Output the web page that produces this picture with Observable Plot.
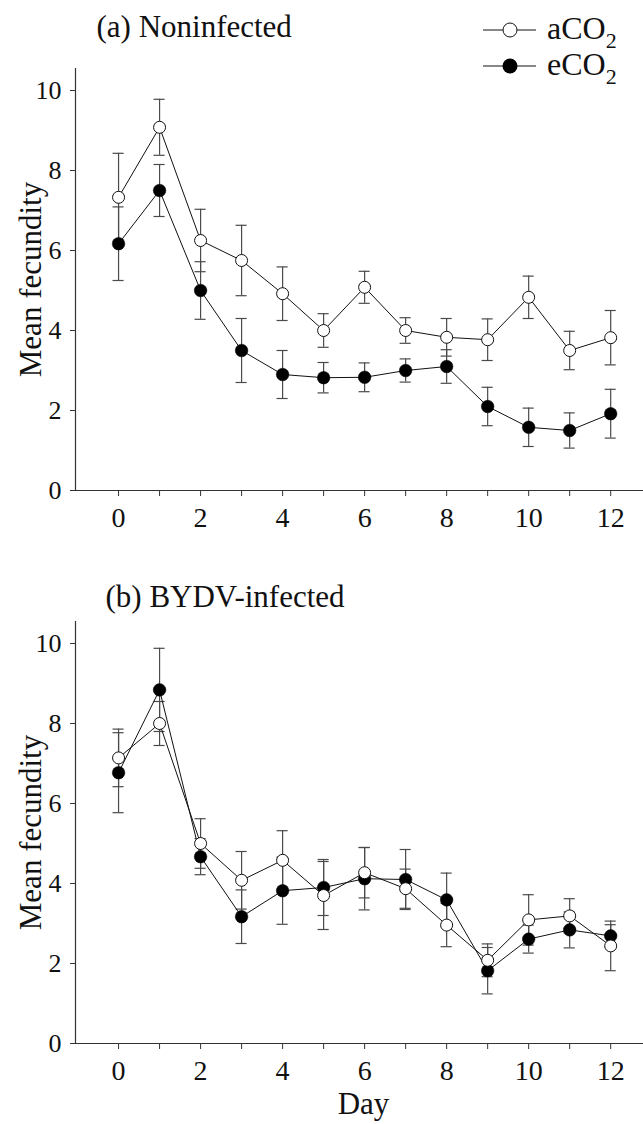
<!DOCTYPE html>
<html>
<head>
<meta charset="utf-8">
<script src="https://cdn.jsdelivr.net/npm/d3@7"></script>
<script src="https://cdn.jsdelivr.net/npm/@observablehq/plot@0.6"></script>
<style>
  body { margin: 0; background: #fff; }
  #wrap { position: relative; width: 643px; height: 1124px; background: #fff; font-family: "Liberation Serif", "Times New Roman", serif; color: #111; }
  .panel { position: absolute; left: 0; }
  .leg { position: absolute; font-size: 32px; line-height: 1; white-space: nowrap; }
  .leg sub { font-size: 22px; vertical-align: -9px; }
  #xlab { position: absolute; left: 0; width: 643px; top: 1086px; text-align: center; font-size: 31px; line-height: 1.15; padding-left: 84px; box-sizing: border-box; }
</style>
</head>
<body>
<div id="wrap">
  <div id="pa" class="panel" style="top:0px"></div>
  <div id="pb" class="panel" style="top:553px"></div>
  <svg style="position:absolute;left:480px;top:14px" width="62" height="70">
    <line x1="3" x2="56" y1="16" y2="16" stroke="#111" stroke-width="1"/>
    <circle cx="30" cy="16" r="7" fill="#fff" stroke="#111" stroke-width="1"/>
    <line x1="3" x2="56" y1="52" y2="52" stroke="#111" stroke-width="1"/>
    <circle cx="30" cy="52" r="7.5" fill="#000"/>
  </svg>
  <div class="leg" style="left:547px;top:12px">aCO<sub>2</sub></div>
  <div class="leg" style="left:547px;top:48px">eCO<sub>2</sub></div>
  <div id="xlab">Day</div>
</div>
<script>
const days = [0, 1, 2, 3, 4, 5, 6, 7, 8, 9, 10, 11, 12];
const xTicks = [0, 2, 4, 6, 8, 10, 12];
const yTicks = [0, 2, 4, 6, 8, 10];
const seriesNames = ["aCO2", "eCO2"];
const panelTitles = ["(a) Noninfected", "(b) BYDV-infected"];
const yLabel = "Mean fecundity";

// (a) Noninfected
const aNonMean = [7.33, 9.08, 6.25, 5.75, 4.92, 4.0, 5.08, 4.0, 3.83, 3.77, 4.83, 3.5, 3.82];
const aNonSE   = [1.1, 0.7, 0.78, 0.88, 0.67, 0.42, 0.4, 0.32, 0.47, 0.52, 0.53, 0.48, 0.68];
const eNonMean = [6.17, 7.5, 5.0, 3.5, 2.9, 2.82, 2.83, 3.0, 3.1, 2.1, 1.58, 1.5, 1.92];
const eNonSE   = [0.92, 0.65, 0.72, 0.8, 0.6, 0.38, 0.36, 0.29, 0.42, 0.48, 0.48, 0.44, 0.61];
// (b) BYDV-infected
const aInfMean = [7.14, 8.0, 5.0, 4.08, 4.58, 3.7, 4.27, 3.87, 2.96, 2.08, 3.09, 3.19, 2.44];
const aInfSE   = [0.72, 0.55, 0.62, 0.72, 0.74, 0.85, 0.63, 0.49, 0.54, 0.41, 0.63, 0.43, 0.62];
const eInfMean = [6.77, 8.84, 4.67, 3.17, 3.82, 3.9, 4.12, 4.1, 3.59, 1.82, 2.61, 2.84, 2.69];
const eInfSE   = [1.0, 1.04, 0.45, 0.67, 0.84, 0.7, 0.78, 0.75, 0.67, 0.58, 0.35, 0.45, 0.28];

function rows(mean, se, name) {
  return days.map((d, i) => ({day: d, mean: mean[i], se: se[i], series: name}));
}

function panel(title, titleDx, titleDy, aMean, aSE, eMean, eSE) {
  const A = rows(aMean, aSE, seriesNames[0]);
  const E = rows(eMean, eSE, seriesNames[1]);
  const all = A.concat(E);
  const cap = 0.135;
  const errColor = "#4a4a4a";
  return Plot.plot({
    width: 643,
    height: 530,
    marginLeft: 75,
    marginRight: 0,
    marginTop: 68,
    marginBottom: 40,
    style: {fontFamily: "Liberation Serif, Times New Roman, serif", fontSize: "26px", color: "#111", background: "#fff", overflow: "visible"},
    x: {domain: [-1.05, 12.8], label: null},
    y: {domain: [0, 10.55], label: null},
    marks: [
      Plot.axisX({ticks: days, tickSize: 6, tickPadding: 11, fontSize: 28, tickFormat: d => xTicks.includes(d) ? String(d) : "", label: null, stroke: "#333"}),
      Plot.axisY({ticks: yTicks, tickSize: 5, tickPadding: 9, fontSize: 26, label: null, stroke: "#333"}),
      Plot.ruleY([0], {x1: -1.15, x2: 12.8, stroke: "#333", strokeWidth: 1.2}),
      Plot.ruleX([-1.05], {y1: 0, y2: 10.55, stroke: "#333", strokeWidth: 1.2}),
      Plot.ruleX(all, {x: "day", y1: d => d.mean - d.se, y2: d => d.mean + d.se, stroke: errColor, strokeWidth: 1.2}),
      Plot.ruleY(all, {y: d => d.mean + d.se, x1: d => d.day - cap, x2: d => d.day + cap, stroke: errColor, strokeWidth: 1.2}),
      Plot.ruleY(all, {y: d => d.mean - d.se, x1: d => d.day - cap, x2: d => d.day + cap, stroke: errColor, strokeWidth: 1.2}),
      Plot.line(E, {x: "day", y: "mean", stroke: "#111", strokeWidth: 1}),
      Plot.line(A, {x: "day", y: "mean", stroke: "#111", strokeWidth: 1}),
      Plot.dot(E, {x: "day", y: "mean", r: 6.3, fill: "#000", stroke: "#000", strokeWidth: 0.5}),
      Plot.dot(A, {x: "day", y: "mean", r: 6, fill: "#fff", stroke: "#111", strokeWidth: 1}),
      Plot.text([title], {frameAnchor: "top-left", textAnchor: "start", lineAnchor: "middle", dx: titleDx, dy: titleDy, fontSize: 31, fill: "#111"}),
      Plot.text([yLabel], {frameAnchor: "left", textAnchor: "middle", lineAnchor: "middle", rotate: -90, dx: -44, fontSize: 31, fill: "#111"})
    ]
  });
}

document.getElementById("pa").appendChild(panel(panelTitles[0], 21, -41, aNonMean, aNonSE, eNonMean, eNonSE));
document.getElementById("pb").appendChild(panel(panelTitles[1], 30, -24, aInfMean, aInfSE, eInfMean, eInfSE));
</script>
</body>
</html>
